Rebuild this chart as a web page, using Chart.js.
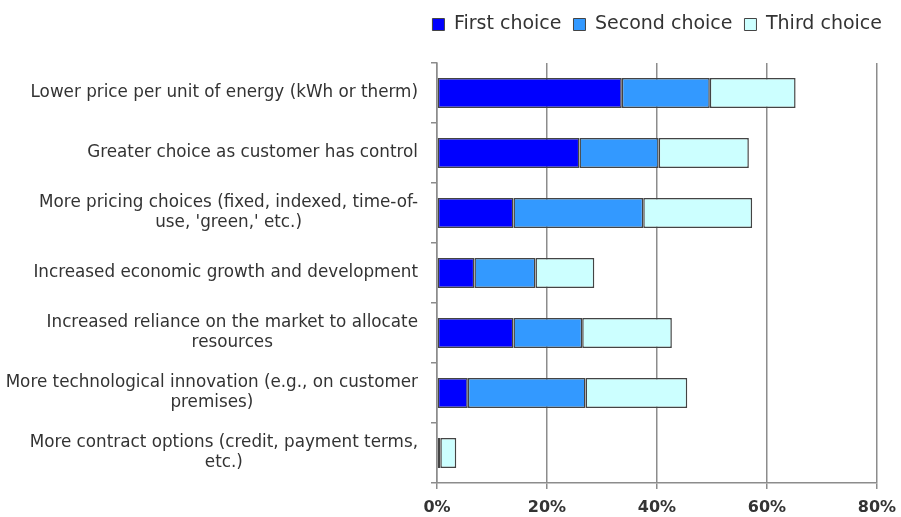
<!DOCTYPE html>
<html>
<head>
<meta charset="utf-8">
<script src="https://cdn.jsdelivr.net/npm/chart.js@4"></script>
<style>
    html, body { margin: 0; padding: 0; background: #fff; }
    #wrap { width: 901px; height: 517px; position: relative; }
</style>
</head>
<body>
<div id="wrap"><canvas id="benefitsChart"></canvas></div>
<script>
// Survey answers, share of respondents (%)
const categories = [
    ['Lower price per unit of energy (kWh or therm)'],
    ['Greater choice as customer has control'],
    ['More pricing choices (fixed, indexed, time-of-', "use, 'green,' etc.)"],
    ['Increased economic growth and development'],
    ['Increased reliance on the market to allocate', 'resources'],
    ['More technological innovation (e.g., on customer', 'premises)'],
    ['More contract options (credit, payment terms,', 'etc.)']
];
const firstChoice = [33.6, 25.9, 13.9, 6.8, 13.9, 5.6, 0];
const secondChoice = [16.0, 14.4, 23.6, 11.1, 12.5, 21.4, 0.6];
const thirdChoice = [15.6, 16.4, 19.8, 10.7, 16.3, 18.5, 2.9];
const xTicks = [0, 20, 40, 60, 80];

const FONT = "'DejaVu Sans', sans-serif";
const TEXT = '#333333';
const GRID = '#8c8c8c';

// draws the category labels: right aligned, wrapped lines centred under the first one
const categoryLabels = {
    id: 'categoryLabels',
    afterDraw(chart) {
        const ctx = chart.ctx;
        const yScale = chart.scales.y;
        const right = yScale.right - 19;
        const lineH = 20;
        ctx.save();
        ctx.font = '16.8px ' + FONT;
        ctx.fillStyle = TEXT;
        ctx.textAlign = 'center';
        ctx.textBaseline = 'middle';
        categories.forEach((lines, i) => {
            const y = yScale.getPixelForTick(i);
            const w = ctx.measureText(lines[0]).width;
            const cx = right - w / 2;
            const top = y - (lines.length - 1) * lineH / 2;
            lines.forEach((line, j) => ctx.fillText(line, cx, top + j * lineH));
        });
        ctx.restore();
    }
};

// extra room between the legend and the plot
const legendMargin = {
    id: 'legendMargin',
    beforeInit(chart) {
        const fit = chart.legend.fit;
        chart.legend.fit = function () {
            fit.bind(chart.legend)();
            this.height += 19;
        };
    }
};

new Chart(document.getElementById('benefitsChart'), {
    type: 'bar',
    data: {
        labels: categories.map(c => c.join(' ')),
        datasets: [
            { label: 'First choice', data: firstChoice, backgroundColor: '#0000ff' },
            { label: 'Second choice', data: secondChoice, backgroundColor: '#3399ff' },
            { label: 'Third choice', data: thirdChoice, backgroundColor: '#ccffff' }
        ].map(d => Object.assign(d, {
            borderColor: '#444444',
            borderWidth: 1.5,
            borderSkipped: false,
            barPercentage: 0.5,
            categoryPercentage: 1
        }))
    },
    options: {
        indexAxis: 'y',
        responsive: true,
        maintainAspectRatio: false,
        animation: false,
        layout: { padding: { top: 3, right: 7, bottom: 0, left: 0 } },
        scales: {
            x: {
                stacked: true,
                min: 0,
                max: 80,
                afterBuildTicks: scale => { scale.ticks = xTicks.map(v => ({ value: v })); },
                afterFit: scale => {
                    scale.height = 34;
                    scale.paddingRight = 24;
                },
                grid: { color: GRID, lineWidth: 1.5, tickLength: 6 },
                border: { color: GRID, width: 1.5 },
                ticks: {
                    color: TEXT,
                    font: { family: FONT, size: 16, weight: 'bold' },
                    padding: 9,
                    callback: v => v + '%'
                }
            },
            y: {
                stacked: true,
                afterFit: scale => { scale.width = 437; },
                grid: { drawOnChartArea: false, color: GRID, lineWidth: 1.5, tickLength: 6, offset: true },
                border: { color: GRID, width: 1.5 },
                ticks: { display: false }
            }
        },
        plugins: {
            legend: {
                align: 'end',
                labels: {
                    color: TEXT,
                    font: { family: FONT, size: 19 },
                    boxWidth: 12,
                    boxHeight: 12,
                    padding: 12,
                    generateLabels: chart => chart.data.datasets.map((d, i) => ({
                        text: d.label,
                        fillStyle: d.backgroundColor,
                        strokeStyle: '#444444',
                        lineWidth: 1,
                        fontColor: TEXT,
                        datasetIndex: i
                    }))
                }
            },
            tooltip: { enabled: false }
        }
    },
    plugins: [categoryLabels, legendMargin]
});
</script>
</body>
</html>
